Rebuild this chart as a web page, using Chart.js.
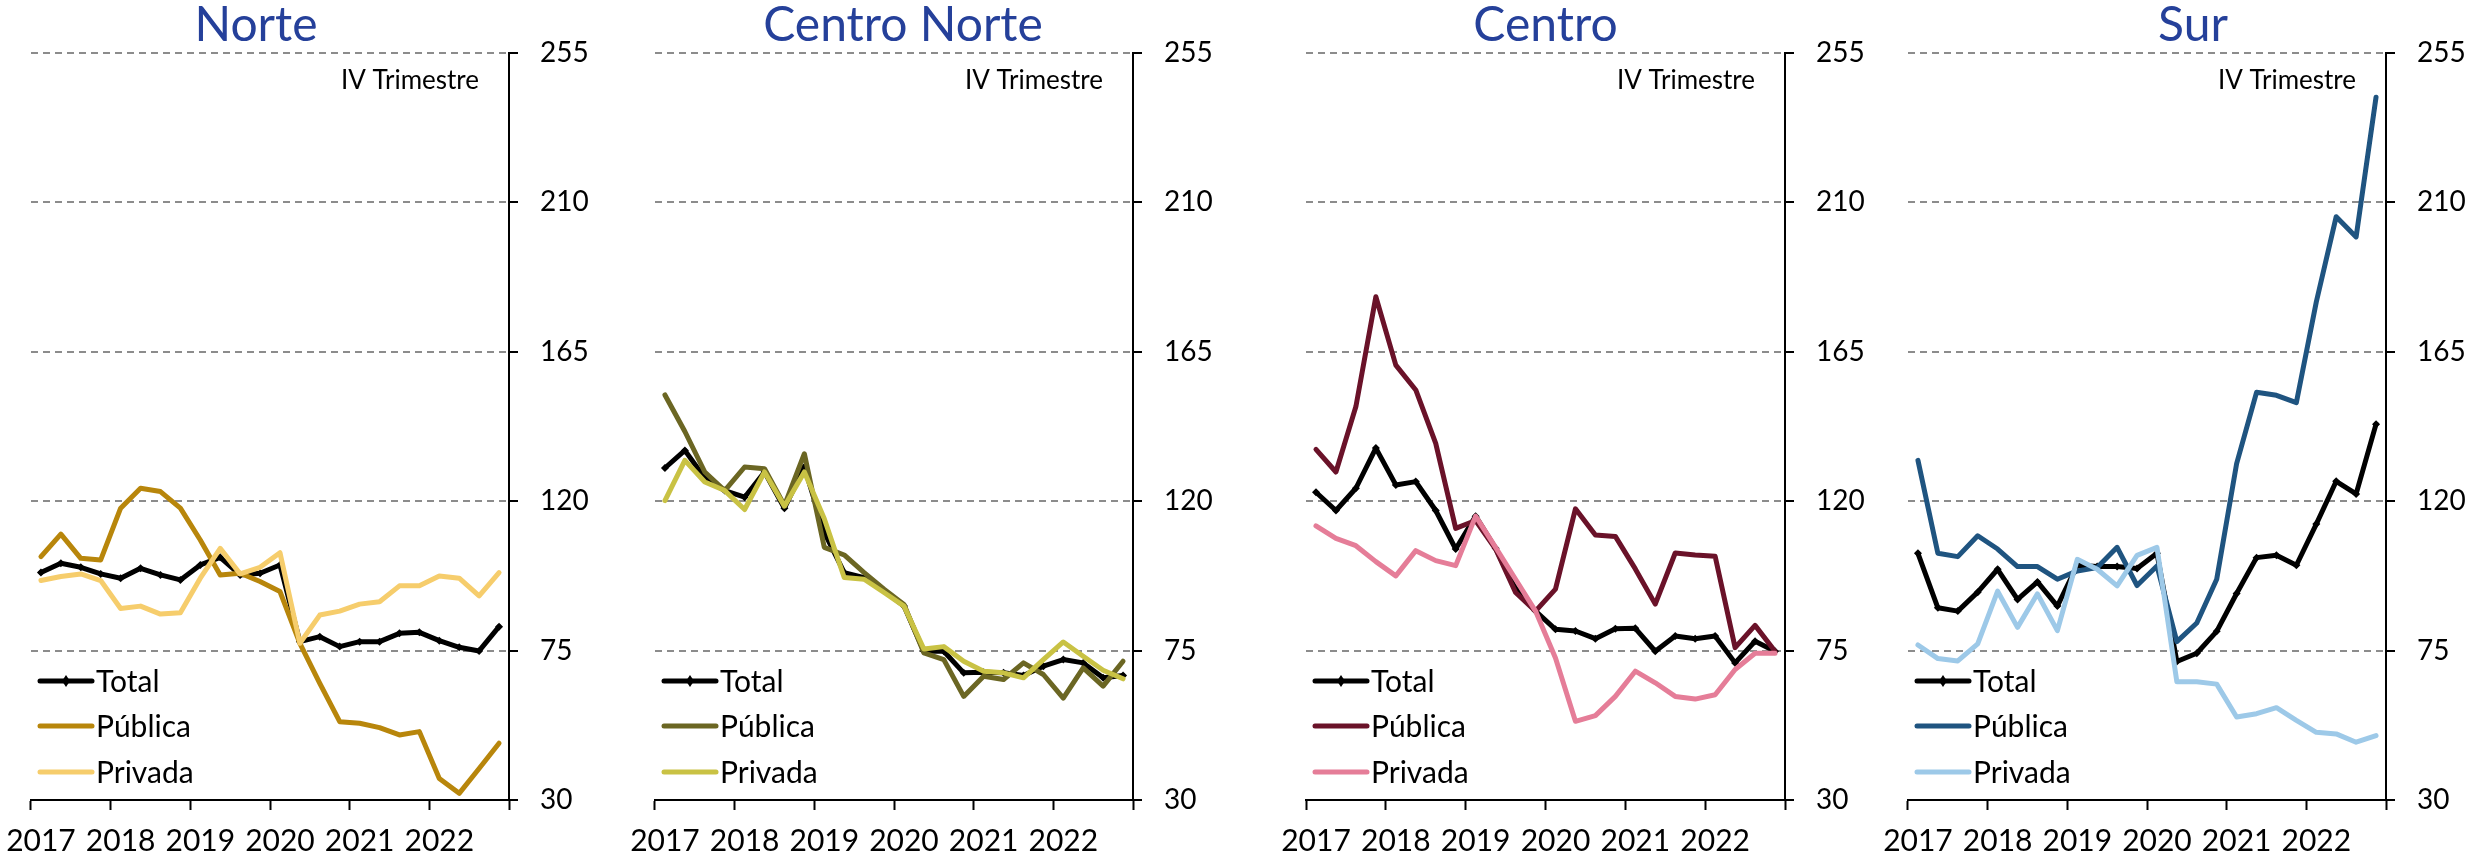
<!DOCTYPE html>
<html>
<head>
<meta charset="utf-8">
<script src="https://cdn.jsdelivr.net/npm/chart.js@4.4.1/dist/chart.umd.min.js"></script>
<style>
  body { margin: 0; background: #fff; overflow: hidden; }
  #wrap { position: relative; width: 2465px; height: 858px; overflow: hidden; }
  canvas { position: absolute; top: 0; }
</style>
</head>
<body>
<div id="wrap">
  <canvas id="c1"></canvas>
  <canvas id="c2"></canvas>
  <canvas id="c3"></canvas>
  <canvas id="c4"></canvas>
</div>
<script>
// quarterly data, 2017 T1 - 2022 T4
const quarters = [
  '2017 I', '2017 II', '2017 III', '2017 IV',
  '2018 I', '2018 II', '2018 III', '2018 IV',
  '2019 I', '2019 II', '2019 III', '2019 IV',
  '2020 I', '2020 II', '2020 III', '2020 IV',
  '2021 I', '2021 II', '2021 III', '2021 IV',
  '2022 I', '2022 II', '2022 III', '2022 IV'
];
const years = ['2017', '2018', '2019', '2020', '2021', '2022'];
const yTicks = [30, 75, 120, 165, 210, 255];
const seriesNames = ['Total', 'Pública', 'Privada'];

const norteTotal = [98.5, 101.3, 100.1, 98.1, 96.8, 99.8, 97.8, 96.3, 100.8, 103.1, 97.8, 98.3, 100.8, 77.7, 79.2, 76.2, 77.7, 77.7, 80.2, 80.5, 78, 76, 74.9, 82.2];
const nortePublica = [103.3, 110.1, 102.8, 102.3, 117.9, 123.9, 122.9, 117.9, 108.3, 97.8, 98.3, 95.8, 92.8, 77.2, 65.1, 53.6, 53.1, 51.8, 49.6, 50.6, 36.5, 32.0, 39.5, 47.1];
const nortePrivada = [96.1, 97.3, 98.1, 96.1, 87.7, 88.4, 86.0, 86.4, 96.8, 105.8, 98.1, 100.1, 104.5, 77.2, 85.7, 86.9, 89.0, 89.7, 94.5, 94.5, 97.5, 96.8, 91.5, 98.5];

const cnorteTotal = [130.0, 135.3, 127.0, 123.2, 121.2, 128.8, 117.9, 130.3, 110.6, 98.5, 97.0, 93.0, 88.4, 74.8, 74.8, 68.3, 68.5, 68.3, 67.5, 70.3, 72.3, 71.3, 66.8, 67.5];
const cnortePublica = [152, 141, 128.8, 123.2, 130.3, 129.8, 118.7, 134.3, 106.1, 103.8, 98.5, 93.5, 88.9, 74.3, 72.3, 61.2, 67.3, 66.3, 71.3, 67.8, 60.7, 69.8, 64.3, 71.8];
const cnortePrivada = [120.2, 132.3, 125.8, 123.2, 117.5, 128.8, 118.5, 128.8, 114.7, 97.0, 96.5, 92.5, 88.4, 75.5, 76.2, 71.8, 68.8, 68.3, 66.8, 72.3, 77.6, 73.3, 69.1, 66.5];

const centroTotal = [122.7, 117.2, 123.9, 136.0, 124.9, 125.9, 117.2, 105.6, 115.5, 105.8, 93.7, 86.9, 81.4, 80.9, 78.6, 81.6, 81.7, 74.8, 79.4, 78.6, 79.4, 71.3, 77.8, 74.8];
const centroPublica = [135.6, 128.8, 148.5, 181.6, 161.0, 153.5, 137.4, 111.8, 114.2, 105.6, 92.5, 86.9, 93.5, 117.7, 109.8, 109.4, 99.6, 89.0, 104.4, 103.8, 103.4, 75.9, 82.6, 74.8];
const centroPrivada = [112.6, 108.8, 106.6, 101.8, 97.5, 105.1, 102.1, 100.6, 115.5, 106.1, 96.5, 86.9, 72.8, 53.7, 55.4, 61.2, 68.8, 65.3, 61.2, 60.4, 61.7, 69.3, 74.2, 74.2];

const surTotal = [104.3, 87.9, 86.9, 92.6, 99.5, 90.4, 95.7, 88.4, 100.7, 100.3, 100.3, 99.7, 104.3, 71.7, 74.2, 80.8, 92.2, 103.0, 103.7, 100.7, 113.1, 126.0, 122.2, 143.2];
const surPublica = [132.3, 104.3, 103.3, 109.6, 105.6, 100.3, 100.3, 96.5, 99.0, 100.0, 106.1, 94.6, 100.5, 77.7, 83.3, 96.5, 131.3, 152.8, 151.9, 149.7, 180.0, 205.7, 199.6, 241.7];
const surPrivada = [76.7, 72.6, 71.9, 77.0, 92.9, 82.0, 92.1, 81.0, 102.5, 99.5, 94.5, 103.7, 106.1, 65.6, 65.6, 64.9, 55.0, 56.0, 57.8, 54.0, 50.4, 49.9, 47.4, 49.4];

Chart.defaults.font.family = 'Lato, "Liberation Sans", sans-serif';
Chart.defaults.color = '#000';

const PAD = 40;   // room left of the plot
const YW = 80;    // right axis width

// title, "IV Trimestre" note and the in-plot legend
const panelDeco = {
  id: 'panelDeco',
  afterDraw(chart, args, opts) {
    const ctx = chart.ctx;
    const ca = chart.chartArea;
    ctx.save();
    // title
    ctx.fillStyle = '#25409A';
    ctx.font = '48px Lato, "Liberation Sans", sans-serif';
    ctx.textAlign = 'center';
    ctx.textBaseline = 'alphabetic';
    ctx.fillText(opts.title, (ca.left + ca.right) / 2 + opts.shift, 41);
    // note
    ctx.fillStyle = '#000';
    ctx.font = '26px Lato, "Liberation Sans", sans-serif';
    ctx.textAlign = 'right';
    ctx.fillText('IV Trimestre', ca.right - 30, 89);
    // legend
    const rows = [ca.bottom - 119, ca.bottom - 74, ca.bottom - 28];
    ctx.font = '30px Lato, "Liberation Sans", sans-serif';
    ctx.textAlign = 'left';
    ctx.textBaseline = 'middle';
    chart.data.datasets.forEach((ds, i) => {
      const y = rows[i];
      ctx.strokeStyle = ds.borderColor;
      ctx.lineWidth = 5;
      ctx.lineCap = 'round';
      ctx.beginPath();
      ctx.moveTo(ca.left + 9, y);
      ctx.lineTo(ca.left + 61, y);
      ctx.stroke();
      if (ds.pointRadius > 0) {
        const mx = ca.left + 35;
        ctx.fillStyle = ds.borderColor;
        ctx.beginPath();
        ctx.moveTo(mx, y - 6);
        ctx.lineTo(mx + 4, y);
        ctx.lineTo(mx, y + 6);
        ctx.lineTo(mx - 4, y);
        ctx.closePath();
        ctx.fill();
      }
      ctx.fillStyle = '#000';
      ctx.fillText(ds.label, ca.left + 65, y + 1);
    });
    ctx.restore();
  }
};

function drawPanel(id, plotLeft, plotWidth, title, shift, total, publica, privada, colPub, colPriv) {
  const canvas = document.getElementById(id);
  canvas.width = PAD + plotWidth + YW;
  canvas.height = 858;
  canvas.style.left = (plotLeft - PAD) + 'px';

  new Chart(canvas, {
    type: 'line',
    data: {
      labels: quarters,
      datasets: [
        { label: seriesNames[0], data: total, borderColor: '#000', backgroundColor: '#000',
          borderWidth: 5, pointStyle: 'rectRot', pointRadius: 4, pointBorderWidth: 0, order: 3 },
        { label: seriesNames[1], data: publica, borderColor: colPub, borderWidth: 5, pointRadius: 0, order: 2 },
        { label: seriesNames[2], data: privada, borderColor: colPriv, borderWidth: 5, pointRadius: 0, order: 1 },
      ],
    },
    options: {
      responsive: false,
      animation: false,
      layout: { padding: { left: PAD, top: 53, right: 0, bottom: 0 } },
      elements: { line: { tension: 0, borderJoinStyle: 'round', borderCapStyle: 'round' } },
      plugins: {
        legend: { display: false },
        tooltip: { enabled: false },
        panelDeco: { title: title, shift: shift },
      },
      scales: {
        x: {
          offset: true,
          grid: {
            offset: true,
            drawOnChartArea: false,
            tickLength: 10,
            tickWidth: 2,
            tickColor: (c) => (c.index === undefined || c.index % 4 === 0) ? '#000' : 'rgba(0,0,0,0)',
          },
          border: { display: true, color: '#000', width: 2 },
          ticks: {
            autoSkip: false,
            maxRotation: 0,
            padding: 13,
            font: { size: 30 },
            callback: (v, i) => (i % 4 === 0 ? years[i / 4] : ''),
          },
          afterFit: (s) => { s.height = 58; },
        },
        y: {
          position: 'right',
          min: 30,
          max: 255,
          afterBuildTicks: (s) => { s.ticks = yTicks.map((v) => ({ value: v })); },
          grid: {
            color: (c) => (c.tick && c.tick.value === 30 ? 'rgba(0,0,0,0)' : '#8c8c8c'),
            lineWidth: 2,
            tickLength: 9,
            tickWidth: 2,
            tickColor: '#000',
          },
          border: { display: true, color: '#000', width: 2, dash: [7, 5] },
          ticks: { padding: 22, font: { size: 28 } },
          afterFit: (s) => { s.width = YW; },
        },
      },
    },
    plugins: [panelDeco],
  });
}

drawPanel('c1', 31, 478, 'Norte', -14, norteTotal, nortePublica, nortePrivada, '#B8860B', '#F6CD6C');
drawPanel('c2', 655, 478, 'Centro Norte', 9, cnorteTotal, cnortePublica, cnortePrivada, '#6B6623', '#C9C244');
drawPanel('c3', 1306, 479, 'Centro', 0, centroTotal, centroPublica, centroPrivada, '#6A1229', '#E57D98');
drawPanel('c4', 1908, 478, 'Sur', 46, surTotal, surPublica, surPrivada, '#1F5480', '#9DC9E8');
</script>
</body>
</html>
